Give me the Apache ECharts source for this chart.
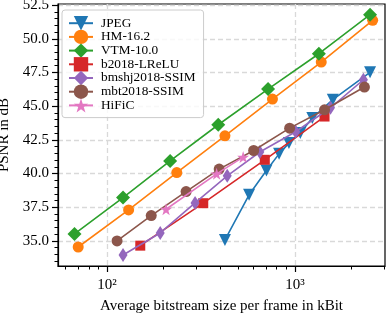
<!DOCTYPE html>
<html><head><meta charset="utf-8">
<script src="https://cdn.jsdelivr.net/npm/echarts@6/dist/echarts.min.js"></script>
<style>html,body{margin:0;padding:0;background:#fff}#c{width:388px;height:314px}</style>
</head><body><div id="c"></div>
<script>
// Data (x in kBit, y in dB)
const jpegX = [424, 570, 705, 823, 929, 1068, 1237, 1590, 2510];
const jpegY = [35.07, 38.42, 40.22, 41.46, 42.26, 43.00, 44.12, 45.48, 47.51];
const hmX = [70.2, 130.2, 235, 424, 759, 1380, 2592];
const hmY = [34.55, 37.30, 40.07, 42.80, 45.53, 48.27, 51.37];
const vtmX = [67.1, 121.6, 216.6, 390.6, 719, 1341, 2510];
const vtmY = [35.52, 38.22, 40.94, 43.62, 46.27, 48.89, 51.79];
const b2018X = [150.2, 325, 691, 1437];
const b2018Y = [34.65, 37.80, 41.02, 44.23];
const bmshjX = [121.6, 191.8, 294, 436, 650, 1009, 1546, 2314];
const bmshjY = [33.96, 35.59, 37.82, 39.83, 41.6, 43.10, 44.88, 46.96];
const mbtX = [113, 171.8, 263.4, 395, 603, 937, 1437, 2343];
const mbtY = [35.0, 36.88, 38.66, 40.33, 41.71, 43.37, 44.73, 46.42];
const hificX = [206, 383, 530];
const hificY = [37.35, 39.98, 41.22];

const seriesNames = ['JPEG', 'HM-16.2', 'VTM-10.0', 'b2018-LReLU', 'bmshj2018-SSIM', 'mbt2018-SSIM', 'HiFiC'];

// Axis ticks
const xMajorTicks = [100, 1000];
const xMinorTicks = [60, 70, 80, 90, 200, 300, 400, 500, 600, 700, 800, 900, 2000, 3000];
const yMajorTicks = [35, 37.5, 40, 42.5, 45, 47.5, 50, 52.5];
const yMinorTicks = [33.5, 34, 34.5, 35.5, 36, 36.5, 37, 38, 38.5, 39, 39.5, 40.5, 41, 41.5, 42, 43, 43.5, 44, 44.5, 45.5, 46, 46.5, 47, 48, 48.5, 49, 49.5, 50.5, 51, 51.5, 52];
const xMin = 54.8, xMax = 3015, yMin = 33.14, yMax = 52.58;

const lg = Math.log10;
const pts = (xs, ys) => xs.map((x, i) => [lg(x), ys[i]]);
const FONT = "'Liberation Serif', 'DejaVu Serif', serif";
const STAR = 'path://M50,0 L61.2,34.5 L97.6,34.5 L68.2,55.9 L79.4,90.5 L50,69.1 L20.6,90.5 L31.8,55.9 L2.4,34.5 L38.8,34.5 Z';

const styles = [
  {c: '#1f77b4', sym: 'triangle', size: 12, rot: 180},
  {c: '#ff7f0e', sym: 'circle', size: 11},
  {c: '#2ca02c', sym: 'diamond', size: 14},
  {c: '#d62728', sym: 'rect', size: 10},
  {c: '#9467bd', sym: 'diamond', size: [9, 14]},
  {c: '#8c564b', sym: 'circle', size: 11},
  {c: '#e377c2', sym: STAR, size: 12}
];
const datas = [pts(jpegX, jpegY), pts(hmX, hmY), pts(vtmX, vtmY), pts(b2018X, b2018Y),
               pts(bmshjX, bmshjY), pts(mbtX, mbtY), pts(hificX, hificY)];

const series = seriesNames.map((n, i) => ({
  name: n, type: 'line', data: datas[i], xAxisIndex: 0, yAxisIndex: 0,
  symbol: styles[i].sym, symbolSize: styles[i].size, symbolRotate: styles[i].rot || 0,
  showSymbol: true, showAllSymbol: true,
  lineStyle: {color: styles[i].c, width: 1.6},
  itemStyle: {color: styles[i].c, borderWidth: 0},
  emphasis: {disabled: true}, z: 2 + i * 0.01, clip: false
}));

const sup = {2: '\u00b2', 3: '\u00b3'};
const chart = echarts.init(document.getElementById('c'), null, {renderer: 'canvas'});
chart.setOption({
  animation: false,
  textStyle: {fontFamily: FONT},
  grid: {left: 58, right: 3, top: 4, bottom: 48, containLabel: false, outerBoundsMode: 'none',
    show: true, borderColor: '#000', borderWidth: 1.2, backgroundColor: 'transparent'},
  legend: {
    orient: 'vertical', left: 62, top: 10,
    padding: [6, 8, 5, 6], itemGap: -0.7, itemWidth: 24, itemHeight: 18,
    backgroundColor: 'rgba(255,255,255,0.8)', borderColor: '#cccccc', borderWidth: 1, borderRadius: 3,
    textStyle: {fontFamily: FONT, fontSize: 13.3, color: '#000', padding: [0, 0, 0, 3]},
    data: seriesNames
  },
  xAxis: [{
    type: 'value', min: lg(xMin), max: lg(xMax),
    name: 'Average bitstream size per frame in kBit', nameLocation: 'middle', nameGap: 33,
    nameTextStyle: {fontFamily: FONT, fontSize: 15, color: '#000'},
    axisLine: {show: true, lineStyle: {color: '#000', width: 1.2}},
    axisTick: {show: true, length: 6, customValues: xMajorTicks.map(lg), lineStyle: {color: '#000', width: 1.2}},
    axisLabel: {show: true, margin: 12, customValues: xMajorTicks.map(lg), fontFamily: FONT, fontSize: 15, color: '#000',
      formatter: v => '10' + sup[Math.round(v)]},
    splitLine: {show: true, lineStyle: {color: '#d9d9d9', width: 1.3, type: [5, 3]}}
  }, {
    type: 'value', min: lg(xMin), max: lg(xMax), position: 'bottom', gridIndex: 0,
    axisLine: {show: false}, axisLabel: {show: false}, splitLine: {show: false},
    axisTick: {show: true, length: 3.5, customValues: xMinorTicks.map(lg), lineStyle: {color: '#000', width: 1}}
  }],
  yAxis: [{
    type: 'value', min: yMin, max: yMax,
    name: 'PSNR in dB', nameLocation: 'middle', nameGap: 41,
    nameTextStyle: {fontFamily: FONT, fontSize: 15, color: '#000'},
    axisLine: {show: true, lineStyle: {color: '#000', width: 1.2}},
    axisTick: {show: true, length: 6, customValues: yMajorTicks, lineStyle: {color: '#000', width: 1.2}},
    axisLabel: {show: true, margin: 9, customValues: yMajorTicks, fontFamily: FONT, fontSize: 15, color: '#000',
      formatter: v => v.toFixed(1)},
    splitLine: {show: true, lineStyle: {color: '#d9d9d9', width: 1.3, type: [5, 3]}}
  }, {
    type: 'value', min: yMin, max: yMax, position: 'left', gridIndex: 0,
    axisLine: {show: false}, axisLabel: {show: false}, splitLine: {show: false},
    axisTick: {show: true, length: 3.5, customValues: yMinorTicks, lineStyle: {color: '#000', width: 1}}
  }],
  series: series
});
</script>
</body></html>
